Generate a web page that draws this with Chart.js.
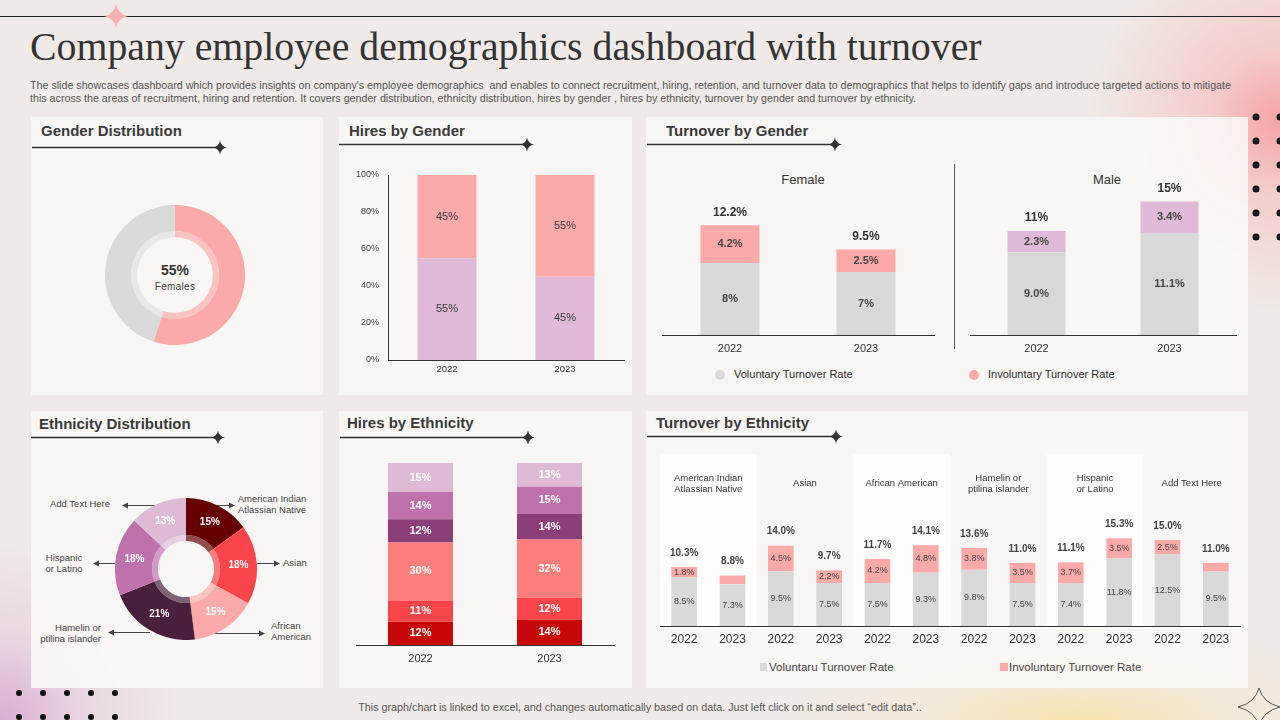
<!DOCTYPE html>
<html>
<head>
<meta charset="utf-8">
<script src="https://cdn.jsdelivr.net/npm/chart.js@4/dist/chart.umd.min.js"></script>
<style>
  body {
    margin: 0; width: 1280px; height: 720px; overflow: hidden; position: relative;
    font-family: 'Liberation Sans', Arial, sans-serif; color: #333;
    background:
      radial-gradient(circle at 1280px 120px, rgba(246,160,162,0.95) 0, rgba(247,178,178,0.55) 70px, rgba(240,235,232,0) 190px),
      radial-gradient(circle at 0px 720px, rgba(218,170,210,0.95) 0, rgba(226,190,220,0.5) 80px, rgba(240,235,232,0) 180px),
      radial-gradient(ellipse 300px 110px at 1080px 730px, rgba(251,224,165,0.9) 0, rgba(250,232,195,0.45) 50%, rgba(240,235,232,0) 100%),
      #f0ebe8;
  }
  .panel { position: absolute; background: rgba(250,249,247,0.86); }
  .abs { position: absolute; white-space: nowrap; }
  .hdr { position: absolute; font-size: 15px; font-weight: bold; color: #3a3a3a; white-space: nowrap; }
  h1 { position: absolute; left: 30px; top: 24px; margin: 0; font: 39.8px 'Liberation Serif', serif; color: #333; white-space: nowrap; }
  .desc { position: absolute; left: 30px; top: 79px; font-size: 10.7px; line-height: 13px; color: #555; white-space: nowrap; }
  canvas { position: absolute; }
  .lbl { position: absolute; font-size: 9.5px; line-height: 11px; color: #444; white-space: nowrap; }
</style>
</head>
<body>

<div class="panel" style="left:31px;top:117px;width:292px;height:278px"></div>
<div class="panel" style="left:339px;top:117px;width:293px;height:278px"></div>
<div class="panel" style="left:646px;top:117px;width:602px;height:278px"></div>
<div class="panel" style="left:31px;top:411px;width:292px;height:277px"></div>
<div class="panel" style="left:339px;top:411px;width:293px;height:277px"></div>
<div class="panel" style="left:646px;top:411px;width:602px;height:277px"></div>

<h1>Company employee demographics dashboard with turnover</h1>
<div class="desc">The slide showcases dashboard which provides insights on company's employee demographics&nbsp; and enables to connect recruitment, hiring, retention, and turnover data to demographics that helps to identify gaps and introduce targeted actions to mitigate<br>this across the areas of recruitment, hiring and retention. It covers gender distribution, ethnicity distribution, hires by gender , hires by ethnicity, turnover by gender and turnover by ethnicity.</div>

<div class="hdr" style="left:41px;top:122px">Gender Distribution</div>
<div class="hdr" style="left:349px;top:122px">Hires by Gender</div>
<div class="hdr" style="left:666px;top:122px">Turnover by Gender</div>
<div class="hdr" style="left:39px;top:415px">Ethnicity Distribution</div>
<div class="hdr" style="left:347px;top:414px">Hires by Ethnicity</div>
<div class="hdr" style="left:656px;top:414px">Turnover by Ethnicity</div>

<!-- gender donut centre -->
<div class="abs" style="left:135px;top:262px;width:80px;text-align:center;font-size:14px;font-weight:bold;color:#333">55%</div>
<div class="abs" style="left:135px;top:281px;width:80px;text-align:center;font-size:10px;color:#444;letter-spacing:0.3px">Females</div>

<!-- turnover by gender titles + legend -->
<div class="abs" style="left:763px;top:172px;width:80px;text-align:center;font-size:13px;color:#333">Female</div>
<div class="abs" style="left:1067px;top:172px;width:80px;text-align:center;font-size:13px;color:#333">Male</div>
<div class="abs" style="left:734px;top:368px;font-size:11px;color:#2d2d2d">Voluntary Turnover Rate</div>
<div class="abs" style="left:988px;top:368px;font-size:11px;color:#2d2d2d">Involuntary Turnover Rate</div>

<!-- ethnicity donut callouts -->
<div class="lbl" style="left:232px;top:493px;width:80px;text-align:center">American Indian<br>Atlassian Native</div>
<div class="lbl" style="left:283px;top:557px">Asian</div>
<div class="lbl" style="left:271px;top:620px">African<br>American</div>
<div class="lbl" style="left:21px;top:622px;width:80px;text-align:right">Hamelin or<br>ptilina islander</div>
<div class="lbl" style="left:24px;top:552px;width:80px;text-align:center">Hispanic<br>or Latino</div>
<div class="lbl" style="left:40px;top:498px;width:80px;text-align:center">Add Text Here</div>

<!-- turnover by ethnicity legend -->
<div class="abs" style="left:769px;top:661px;font-size:11.5px;color:#444">Voluntaru Turnover Rate</div>
<div class="abs" style="left:1009px;top:661px;font-size:11.5px;color:#444">Involuntary Turnover Rate</div>

<div class="abs" style="left:0;top:701px;width:1280px;text-align:center;font-size:10.75px;color:#555">This graph/chart is linked to excel, and changes automatically based on data. Just left click on it and select “edit data”..</div>

<svg width="1280" height="720" style="position:absolute;left:0;top:0;pointer-events:none">
  <defs>
    <path id="star" d="M0,-7 Q1,-1 7,0 Q1,1 0,7 Q-1,1 -7,0 Q-1,-1 0,-7Z"/>
  </defs>
  <line x1="0" y1="16.5" x2="1280" y2="16.5" stroke="#222" stroke-width="1"/>
  <path d="M116,4 Q118,14 128,16 Q118,18 116,28 Q114,18 104,16 Q114,14 116,4Z" fill="#f9b0b2"/>

  <g stroke="#333" stroke-width="1.3">
    <line x1="32" y1="147.5" x2="220" y2="147.5"/>
    <line x1="339" y1="144.5" x2="527" y2="144.5"/>
    <line x1="647" y1="144.5" x2="835" y2="144.5"/>
    <line x1="31" y1="437.5" x2="218" y2="437.5"/>
    <line x1="340" y1="437.5" x2="528" y2="437.5"/>
    <line x1="647" y1="436.5" x2="836" y2="436.5"/>
  </g>
  <g fill="#333">
    <use href="#star" x="220" y="147.5"/>
    <use href="#star" x="527" y="144.5"/>
    <use href="#star" x="835" y="144.5"/>
    <use href="#star" x="218" y="437.5"/>
    <use href="#star" x="528" y="437.5"/>
    <use href="#star" x="836" y="436.5"/>
  </g>

  <line x1="954.5" y1="164" x2="954.5" y2="349" stroke="#555" stroke-width="1"/>
  <circle cx="720" cy="375" r="5" fill="#d9d9d9"/>
  <circle cx="974" cy="375" r="5" fill="#fba9a9"/>
  <rect x="760" y="663" width="7" height="8" fill="#d9d9d9"/>
  <rect x="1000" y="663" width="8" height="8" fill="#fba9a9"/>

  <g stroke="#444" stroke-width="1" fill="none">
    <line x1="215" y1="505.5" x2="232" y2="505.5"/>
    <line x1="256" y1="563.5" x2="277" y2="563.5"/>
    <line x1="215" y1="633.5" x2="262" y2="633.5"/>
    <line x1="150" y1="632.5" x2="111" y2="632.5"/>
    <line x1="115" y1="563.5" x2="96" y2="563.5"/>
    <line x1="155" y1="505.5" x2="125" y2="505.5"/>
  </g>
  <g fill="#444">
    <path d="M235,505.5 l-6,-3 v6z"/>
    <path d="M280,563.5 l-6,-3 v6z"/>
    <path d="M265,633.5 l-6,-3 v6z"/>
    <path d="M108,632.5 l6,-3 v6z"/>
    <path d="M93,563.5 l6,-3 v6z"/>
    <path d="M122,505.5 l6,-3 v6z"/>
  </g>

  <g fill="#111">
    <circle cx="1256" cy="117" r="3.5"/><circle cx="1256" cy="141" r="3.5"/>
    <circle cx="1256" cy="165" r="3.5"/><circle cx="1256" cy="189" r="3.5"/>
    <circle cx="1256" cy="213" r="3.5"/><circle cx="1256" cy="237" r="3.5"/>
    <circle cx="1280" cy="117" r="3.5"/><circle cx="1280" cy="141" r="3.5"/>
    <circle cx="1280" cy="165" r="3.5"/><circle cx="1280" cy="189" r="3.5"/>
    <circle cx="1280" cy="213" r="3.5"/><circle cx="1280" cy="237" r="3.5"/>
    <circle cx="19" cy="693" r="3"/><circle cx="43" cy="693" r="3"/><circle cx="67" cy="693" r="3"/>
    <circle cx="91" cy="693" r="3"/><circle cx="115" cy="693" r="3"/>
    <circle cx="19" cy="717" r="3"/><circle cx="43" cy="717" r="3"/><circle cx="67" cy="717" r="3"/>
    <circle cx="91" cy="717" r="3"/><circle cx="115" cy="717" r="3"/>
  </g>
  <path d="M1259,688 Q1263,703 1280,707 Q1263,711 1259,726 Q1255,711 1238,707 Q1255,703 1259,688Z" fill="none" stroke="#555" stroke-width="1"/>
</svg>

<script>
// ---- data ----
const GENDER_LABELS = ['Females', 'Males']
const GENDER_SHARE = [55, 45]

const YEARS = ['2022', '2023']
const HIRES_MALE = [55, 45]
const HIRES_FEMALE = [45, 55]

const FEMALE_VOL = [8, 7]
const FEMALE_INVOL = [4.2, 2.5]
const FEMALE_TOTAL = ['12.2%', '9.5%']
const MALE_VOL = [9.0, 11.1]
const MALE_INVOL = [2.3, 3.4]
const MALE_TOTAL = ['11%', '15%']

const ETHNICITIES = ['American Indian Atlassian Native', 'Asian', 'African American',
                     'Hamelin or ptilina islander', 'Hispanic or Latino', 'Add Text Here']
const ETH_SHARE = [15, 18, 15, 21, 18, 13]

// hires by ethnicity, segments listed bottom to top
const HIRE_ETH = [
  [12, 14],
  [11, 12],
  [30, 32],
  [12, 14],
  [14, 15],
  [15, 13],
]

const TURN_GROUPS = [['American Indian', 'Atlassian Native'], ['Asian'], ['African American'],
                     ['Hamelin or', 'ptilina islander'], ['Hispanic', 'or Latino'], ['Add Text Here']]
const TURN_YEARS = ['2022', '2023', '2022', '2023', '2022', '2023', '2022', '2023', '2022', '2023', '2022', '2023']
const TURN_VOL   = [8.5, 7.3, 9.5, 7.5, 7.5, 9.3, 9.8, 7.5, 7.4, 11.8, 12.5, 9.5]
const TURN_INVOL = [1.8, 1.5, 4.5, 2.2, 4.2, 4.8, 3.8, 3.5, 3.7, 3.5, 2.5, 1.5]

// ---- colours ----
const PINK = '#fba9a9'
const GREY = '#d9d9d9'
const LAVENDER = '#e0bad8'
const ETH_COLORS = ['#660000', '#f94449', '#fba9a9', '#4a1e3d', '#bf71ad', '#dfbad7']
const HIRE_ETH_COLORS = ['#c80808', '#f94449', '#fc7f7c', '#8b3e7a', '#bf71ad', '#dfbad7']

function lighten(hex, t = 0.3) {
  const n = parseInt(hex.slice(1), 16)
  const mix = c => Math.round(c + (255 - c) * t)
  return `rgb(${mix(n >> 16)},${mix((n >> 8) & 255)},${mix(n & 255)})`
}

// value labels inside segments, optional totals above stacked bars
const valueLabels = {
  id: 'valueLabels',
  afterDatasetsDraw(chart, _args, o) {
    if (!o.format) return
    const { ctx } = chart
    const isBar = chart.config.type === 'bar'
    ctx.save()
    ctx.textAlign = 'center'
    ctx.textBaseline = 'middle'
    chart.data.datasets.forEach((ds, di) => {
      if (o.only && !o.only.includes(di)) return
      const vals = ds.shown || ds.data
      chart.getDatasetMeta(di).data.forEach((el, i) => {
        const v = vals[i]
        if (v == null || v < (o.min || 0)) return
        let x, y
        if (isBar) { x = el.x; y = (el.y + el.base) / 2 }
        else { const p = el.tooltipPosition(true); x = p.x; y = p.y }
        ctx.font = o.font
        ctx.fillStyle = o.color
        ctx.fillText(o.format(v), x, y + (o.dy || 0))
      })
    })
    if (o.totals) {
      const top = chart.getDatasetMeta(chart.data.datasets.length - 1).data
      ctx.font = o.totalFont
      ctx.fillStyle = o.totalColor
      top.forEach((el, i) => ctx.fillText(o.totals[i], el.x, el.y - o.totalGap))
    }
    ctx.restore()
  }
}

// alternating group bands + group captions (turnover by ethnicity)
const groupBands = {
  id: 'groupBands',
  beforeDraw(chart, _args, o) {
    if (!o.groups) return
    const { ctx, chartArea: a, scales: { x } } = chart
    const half = (x.getPixelForValue(1) - x.getPixelForValue(0)) / 2
    ctx.save()
    o.groups.forEach((lines, g) => {
      const x0 = x.getPixelForValue(2 * g) - half
      const x1 = x.getPixelForValue(2 * g + 1) + half
      if (g % 2 === 0) {
        ctx.fillStyle = o.band
        ctx.fillRect(x0, a.top, x1 - x0, a.bottom - a.top)
      }
      ctx.fillStyle = o.color
      ctx.font = o.font
      ctx.textAlign = 'center'
      ctx.textBaseline = 'middle'
      const cy = a.top + o.labelY
      lines.forEach((t, k) => ctx.fillText(t, (x0 + x1) / 2, cy + (k - (lines.length - 1) / 2) * o.lineH))
    })
    ctx.restore()
  }
}

Chart.register(valueLabels, groupBands)
Chart.defaults.font.family = "'Liberation Sans', Arial, sans-serif"
Chart.defaults.animation = false
Chart.defaults.plugins.legend.display = false
Chart.defaults.plugins.tooltip.enabled = false

function mount(left, top, w, h) {
  const c = document.createElement('canvas')
  c.width = w; c.height = h
  c.style.cssText = `left:${left}px;top:${top}px;width:${w}px;height:${h}px`
  document.body.appendChild(c)
  return c
}

const fixH = h => s => { s.height = h }
const fixW = w => s => { s.width = w }
const xAxis = (h, font, padding) => ({
  grid: { display: false, drawTicks: false },
  border: { display: true, color: '#333', width: 1 },
  ticks: { color: '#333', font, padding },
  afterFit: fixH(h),
})

// Gender distribution
new Chart(mount(105, 205, 140, 140), {
  type: 'doughnut',
  data: { labels: GENDER_LABELS, datasets: [
    { data: GENDER_SHARE, backgroundColor: [PINK, GREY], borderWidth: 0, weight: 25 },
    { data: GENDER_SHARE, backgroundColor: [lighten(PINK), lighten(GREY, 0.4)], borderWidth: 0, weight: 6 },
  ]},
  options: { responsive: false, cutout: '54%', layout: { padding: 0 } },
})

// Hires by gender
new Chart(mount(339, 117, 293, 278), {
  type: 'bar',
  data: { labels: YEARS, datasets: [
    { data: HIRES_MALE, backgroundColor: LAVENDER },
    { data: HIRES_FEMALE, backgroundColor: PINK },
  ]},
  options: {
    responsive: false,
    layout: { padding: { top: 58, right: 8, bottom: 15, left: 0 } },
    datasets: { bar: { barPercentage: 0.5, categoryPercentage: 1 } },
    scales: {
      x: { stacked: true, ...xAxis(20, { size: 9.5 }, 4) },
      y: { stacked: true, min: 0, max: 100,
           grid: { display: false, drawTicks: false },
           border: { display: true, color: '#333', width: 1 },
           ticks: { stepSize: 20, color: '#444', font: { size: 9 }, padding: 9, callback: v => v + '%' },
           afterFit: fixW(49) },
    },
    plugins: { valueLabels: { format: v => v + '%', font: '11px "Liberation Sans"', color: '#3a3a3a' } },
  },
})

// Turnover by gender - female
new Chart(mount(646, 117, 308, 278), {
  type: 'bar',
  data: { labels: YEARS, datasets: [
    { data: FEMALE_VOL, backgroundColor: GREY },
    { data: FEMALE_INVOL, backgroundColor: PINK },
  ]},
  options: {
    responsive: false,
    layout: { padding: { top: 83, right: 20, bottom: 35, left: 16 } },
    datasets: { bar: { barPercentage: 0.434, categoryPercentage: 1 } },
    scales: {
      x: { stacked: true, ...xAxis(25, { size: 11 }, 7) },
      y: { stacked: true, min: 0, max: 15, display: false },
    },
    plugins: { valueLabels: { format: v => v + '%', font: 'bold 11px "Liberation Sans"', color: '#444',
                              totals: FEMALE_TOTAL, totalFont: 'bold 12px "Liberation Sans"', totalColor: '#333', totalGap: 13 } },
  },
})

// Turnover by gender - male
new Chart(mount(955, 117, 293, 278), {
  type: 'bar',
  data: { labels: YEARS, datasets: [
    { data: MALE_VOL, backgroundColor: GREY },
    { data: MALE_INVOL, backgroundColor: LAVENDER },
  ]},
  options: {
    responsive: false,
    layout: { padding: { top: 80, right: 12, bottom: 35, left: 15 } },
    datasets: { bar: { barPercentage: 0.436, categoryPercentage: 1 } },
    scales: {
      x: { stacked: true, ...xAxis(25, { size: 11 }, 7) },
      y: { stacked: true, min: 0, max: 15, display: false },
    },
    plugins: { valueLabels: { format: v => v.toFixed(1) + '%', font: 'bold 11px "Liberation Sans"', color: '#444',
                              totals: MALE_TOTAL, totalFont: 'bold 12px "Liberation Sans"', totalColor: '#333', totalGap: 13 } },
  },
})

// Ethnicity distribution
new Chart(mount(115, 498, 142, 142), {
  type: 'doughnut',
  data: { labels: ETHNICITIES, datasets: [
    { data: ETH_SHARE, backgroundColor: ETH_COLORS, borderWidth: 0, weight: 37 },
    { data: ETH_SHARE, backgroundColor: ETH_COLORS.map(c => lighten(c, 0.3)), borderWidth: 0, weight: 6 },
  ]},
  options: {
    responsive: false, cutout: '39.5%', layout: { padding: 0 },
    plugins: { valueLabels: { only: [0], format: v => v + '%', font: 'bold 10px "Liberation Sans"', color: '#fff' } },
  },
})

// Hires by ethnicity (100% stacked, labels keep the raw shares)
const hireTotals = YEARS.map((_, i) => HIRE_ETH.reduce((s, row) => s + row[i], 0))
new Chart(mount(339, 411, 293, 277), {
  type: 'bar',
  data: { labels: YEARS, datasets: HIRE_ETH.map((row, k) => ({
    data: row.map((v, i) => v / hireTotals[i] * 100),
    shown: row,
    backgroundColor: HIRE_ETH_COLORS[k],
  }))},
  options: {
    responsive: false,
    layout: { padding: { top: 52, right: 18, bottom: 19, left: 17 } },
    datasets: { bar: { barPercentage: 0.504, categoryPercentage: 1 } },
    scales: {
      x: { stacked: true, ...xAxis(24, { size: 11 }, 7) },
      y: { stacked: true, min: 0, max: 100, display: false },
    },
    plugins: { valueLabels: { format: v => v + '%', font: 'bold 11px "Liberation Sans"', color: '#fff' } },
  },
})

// Turnover by ethnicity
const turnTotals = TURN_VOL.map((v, i) => (v + TURN_INVOL[i]).toFixed(1) + '%')
new Chart(mount(646, 411, 602, 277), {
  type: 'bar',
  data: { labels: TURN_YEARS, datasets: [
    { data: TURN_VOL, backgroundColor: GREY },
    { data: TURN_INVOL, backgroundColor: PINK },
  ]},
  options: {
    responsive: false,
    layout: { padding: { top: 43, right: 8, bottom: 40, left: 14 } },
    datasets: { bar: { barPercentage: 0.53, categoryPercentage: 1 } },
    scales: {
      x: { stacked: true, ...xAxis(22, { size: 12 }, 6) },
      y: { stacked: true, min: 0, max: 30, display: false },
    },
    plugins: {
      valueLabels: { format: v => v.toFixed(1) + '%', min: 1.6, font: '9px "Liberation Sans"', color: '#444',
                     totals: turnTotals, totalFont: 'bold 10px "Liberation Sans"', totalColor: '#444', totalGap: 14 },
      groupBands: { groups: TURN_GROUPS, band: 'rgba(255,255,255,0.75)', color: '#333', font: '9.5px "Liberation Sans"',
                    labelY: 29.5, lineH: 11 },
    },
  },
})
</script>
</body>
</html>
